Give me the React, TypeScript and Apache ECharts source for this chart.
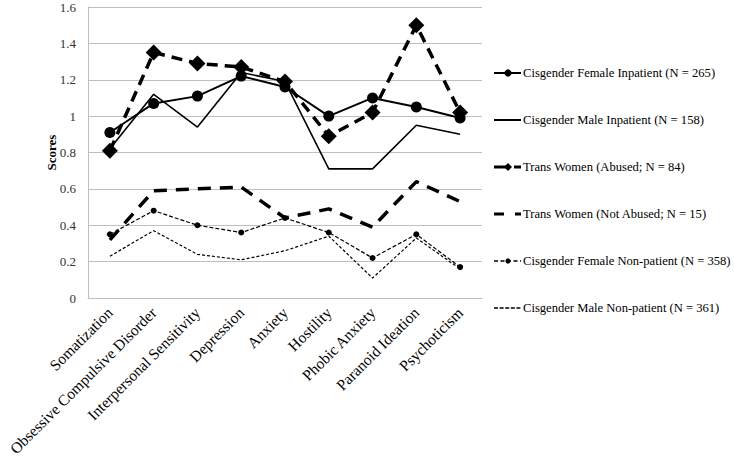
import React, { useEffect, useRef } from "react";
import * as echarts from "echarts";

const categories = [
  "Somatization",
  "Obsessive Compulsive Disorder",
  "Interpersonal Sensitivity",
  "Depression",
  "Anxiety",
  "Hostility",
  "Phobic Anxiety",
  "Paranoid Ideation",
  "Psychoticism",
];

const cisFemaleInpatient = [0.91, 1.07, 1.11, 1.22, 1.16, 1.0, 1.1, 1.05, 0.99];
const cisMaleInpatient = [0.82, 1.12, 0.94, 1.24, 1.19, 0.71, 0.71, 0.95, 0.9];
const transAbused = [0.81, 1.35, 1.29, 1.27, 1.19, 0.89, 1.02, 1.5, 1.02];
const transNotAbused = [0.32, 0.59, 0.6, 0.61, 0.44, 0.49, 0.39, 0.64, 0.53];
const cisFemaleNonPatient = [0.35, 0.48, 0.4, 0.36, 0.44, 0.36, 0.22, 0.35, 0.17];
const cisMaleNonPatient = [0.23, 0.37, 0.24, 0.21, 0.26, 0.34, 0.11, 0.33, 0.16];

const seriesNames = [
  "Cisgender Female Inpatient (N = 265)",
  "Cisgender Male Inpatient (N = 158)",
  "Trans Women (Abused; N = 84)",
  "Trans Women (Not Abused; N = 15)",
  "Cisgender Female Non-patient (N = 358)",
  "Cisgender Male Non-patient (N = 361)",
];

const FONT = "Liberation Serif";

function legendGraphics() {
  const x0 = 494;
  const x1 = 521;
  const mid = 508;
  const top = 73;
  const gap = 47;
  const els: any[] = [];
  const ln = (xa: number, xb: number, y: number, w: number, dash?: number[]) => ({
    type: "line",
    shape: { x1: xa, y1: y, x2: xb, y2: y },
    style: { stroke: "#000", lineWidth: w, lineDash: dash || null },
    silent: true,
  });
  seriesNames.forEach((name, i) => {
    const y = top + i * gap;
    if (i === 0) {
      els.push(ln(x0, x1, y, 2));
      els.push({ type: "circle", shape: { cx: mid, cy: y, r: 3.6 }, style: { fill: "#000" } });
    } else if (i === 1) {
      els.push(ln(x0, x1, y, 2));
    } else if (i === 2) {
      els.push(ln(x0, mid - 2, y, 3));
      els.push({
        type: "polygon",
        shape: { points: [[mid, y - 4], [mid + 4, y], [mid, y + 4], [mid - 4, y]] },
        style: { fill: "#000" },
      });
      els.push(ln(mid + 6, x1, y, 3));
    } else if (i === 3) {
      els.push(ln(x0, x0 + 10, y, 3));
      els.push(ln(mid + 7, x1, y, 3));
    } else if (i === 4) {
      els.push(ln(x0, x1, y, 1.5, [4, 2.5]));
      els.push({ type: "circle", shape: { cx: mid, cy: y, r: 2.6 }, style: { fill: "#000" } });
    } else {
      els.push(ln(x0, x1, y, 1.5, [4, 1.6]));
    }
    els.push({
      type: "text",
      x: 523,
      y,
      style: {
        text: name,
        fill: "#000",
        fontFamily: FONT,
        fontSize: 12.6,
        verticalAlign: "middle",
        align: "left",
      },
      silent: true,
    });
  });
  return els;
}

export default function App() {
  const ref = useRef<HTMLDivElement>(null);
  useEffect(() => {
    if (!ref.current) return;
    const chart = echarts.init(ref.current, undefined, { renderer: "svg" });
    chart.setOption({
      animation: false,
      backgroundColor: "#ffffff",
      textStyle: { fontFamily: FONT },
      grid: { left: 88, right: 252, top: 7, bottom: 164, containLabel: false },
      legend: { show: false, data: seriesNames },
      graphic: legendGraphics(),
      xAxis: {
        type: "category",
        data: categories,
        boundaryGap: true,
        axisLine: { show: true, lineStyle: { color: "#bfbfbf", width: 1 } },
        axisTick: { show: false },
        axisLabel: {
          interval: 0,
          rotate: 45,
          fontFamily: FONT,
          fontSize: 15.5,
          color: "#000",
          margin: 12,
        },
      },
      yAxis: {
        type: "value",
        min: 0,
        max: 1.6,
        interval: 0.2,
        name: "Scores",
        nameLocation: "middle",
        nameGap: 30,
        nameMoveOverlap: false,
        nameTextStyle: { fontFamily: FONT, fontSize: 13, fontWeight: "bold", color: "#000" },
        axisLine: { show: true, lineStyle: { color: "#bfbfbf", width: 1 } },
        axisTick: { show: false },
        splitLine: { show: true, lineStyle: { color: "#bfbfbf", width: 1 } },
        axisLabel: { fontFamily: FONT, fontSize: 13, color: "#333", margin: 12 },
      },
      series: [
        {
          name: seriesNames[0],
          type: "line",
          data: cisFemaleInpatient,
          symbol: "circle",
          symbolSize: 11,
          color: "#000",
          lineStyle: { color: "#000", width: 2 },
          itemStyle: { color: "#000" },
          z: 5,
        },
        {
          name: seriesNames[1],
          type: "line",
          data: cisMaleInpatient,
          symbol: "none",
          showSymbol: false,
          color: "#000",
          lineStyle: { color: "#000", width: 1.6 },
          itemStyle: { color: "#000" },
        },
        {
          name: seriesNames[2],
          type: "line",
          data: transAbused,
          symbol: "diamond",
          symbolSize: 16,
          color: "#000",
          lineStyle: { color: "#000", width: 3.5, type: [11, 7] },
          itemStyle: { color: "#000" },
          z: 4,
        },
        {
          name: seriesNames[3],
          type: "line",
          data: transNotAbused,
          symbol: "none",
          showSymbol: false,
          color: "#000",
          lineStyle: { color: "#000", width: 3.5, type: [13, 9] },
          itemStyle: { color: "#000" },
        },
        {
          name: seriesNames[4],
          type: "line",
          data: cisFemaleNonPatient,
          symbol: "circle",
          symbolSize: 6,
          color: "#000",
          lineStyle: { color: "#000", width: 1.2, type: [4, 2] },
          itemStyle: { color: "#000" },
        },
        {
          name: seriesNames[5],
          type: "line",
          data: cisMaleNonPatient,
          symbol: "none",
          showSymbol: false,
          color: "#000",
          lineStyle: { color: "#000", width: 1.2, type: [3, 2] },
          itemStyle: { color: "#000" },
        },
      ],
    });
    return () => chart.dispose();
  }, []);
  return <div ref={ref} style={{ width: 734, height: 462, position: "absolute", left: 0, top: 0 }} />;
}
